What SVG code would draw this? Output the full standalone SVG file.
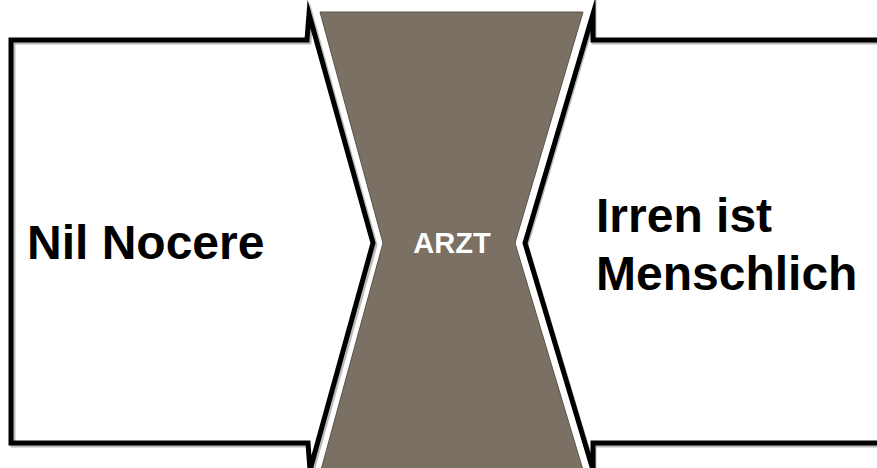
<svg xmlns="http://www.w3.org/2000/svg" width="877" height="468" viewBox="0 0 877 468">
<style>
.frame{fill:none;stroke:#000;stroke-width:5;stroke-linejoin:miter;stroke-miterlimit:10}
.shadow{fill:none;stroke:#bbb;stroke-width:5;stroke-linejoin:miter;stroke-miterlimit:10}
.lbl{font-family:"Liberation Sans",Arial,sans-serif;font-weight:bold;font-size:48px;fill:#000}
</style>
<rect width="877" height="468" fill="#fff"/>
<g id="left">
<path class="shadow" d="M308,444 L12,444 L12,41 L308,41 L310,15 L374,244 L311,470" transform="translate(1,1)"/>
<path class="frame" d="M308,443 L11,443 L11,40 L307,40 L309,14 L373,243 L310,470 Z" style="fill:none" />
<text class="lbl" x="27" y="259">Nil Nocere</text>
</g>
<g id="right">
<path class="shadow" d="M880,41 L593,41 L593,15 L525,244 L593,470 L593,444 L880,444" transform="translate(1,1)"/>
<path class="frame" d="M880,40 L593,40 L593,14 L525,243 L593,470 L593,443 L880,443"/>
<text class="lbl" x="596" y="232">Irren ist</text>
<text class="lbl" x="596" y="290">Menschlich</text>
</g>
<g id="arzt">
<polygon points="320,12 583,12 515,243 583,470 321,470 383,243" fill="#7a7064" stroke="#5a534b" stroke-width="1"/>
<text x="452" y="253" text-anchor="middle" font-family="Liberation Sans,Arial,sans-serif" font-weight="bold" font-size="29" fill="#fff">ARZT</text>
</g>
<g id="connectors"/>
</svg>
